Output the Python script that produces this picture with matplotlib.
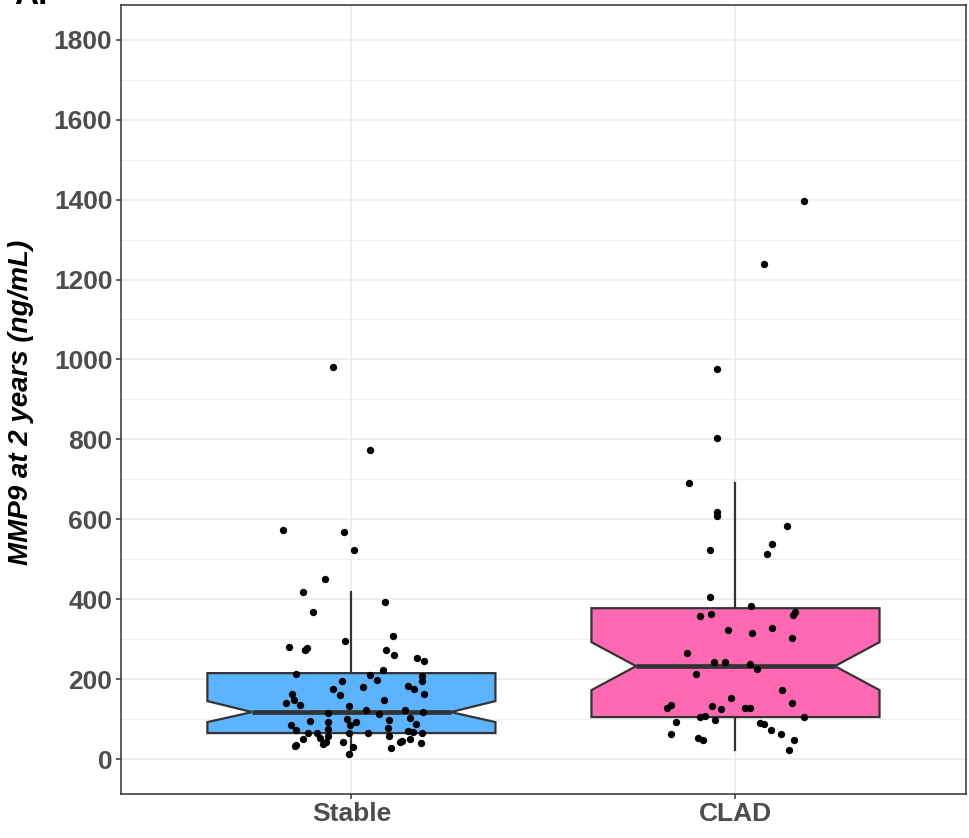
import matplotlib.pyplot as plt
import numpy as np

plt.rcParams['font.family'] = ['Liberation Sans', 'DejaVu Sans']

# groups on the x axis
groups = ["Stable", "CLAD"]
box_colors = ["#5CB3FF", "#FF69B4"]

# box statistics (ng/mL)
q1 = [65, 105]
median = [117.5, 232.5]
q3 = [215, 377.5]
notch_lo = [92.5, 172.5]
notch_hi = [145, 292.5]
whisk_lo = [12, 23]
whisk_hi = [417.5, 690]

# individual measurements with their horizontal jitter
stable_vals = [981, 773, 574, 568, 524, 450, 418, 369, 392, 308, 295, 281, 274, 277,
               272, 261, 253, 245, 224, 214, 211, 197, 208, 196, 195, 176, 181, 182,
               176, 164, 161, 162, 148, 148, 139, 134, 132, 122, 122, 117, 114, 112,
               103, 101, 92, 94, 92, 97, 84, 86, 88, 78, 75, 72, 65, 65, 65, 65, 70,
               67, 66, 58, 53, 58, 51, 43, 38, 43, 35, 32, 45, 43, 49, 39, 31, 28, 12]
stable_jit = [-0.048, 0.049, -0.178, -0.020, 0.006, -0.069, -0.127, -0.099, 0.087,
              0.107, -0.016, -0.163, -0.121, -0.115, 0.091, 0.111, 0.172, 0.188,
              0.082, -0.143, 0.049, 0.066, 0.183, 0.183, -0.025, -0.049, 0.030,
              0.147, 0.163, -0.155, -0.030, 0.188, -0.150, 0.085, -0.170, -0.135,
              -0.006, 0.039, 0.139, 0.187, -0.062, 0.073, 0.153, -0.011, -0.062,
              -0.108, 0.011, 0.098, -0.003, -0.156, 0.169, 0.094, -0.062, -0.143,
              -0.112, -0.089, -0.006, 0.043, 0.147, 0.160, 0.184, 0.098, -0.082,
              -0.062, -0.126, -0.067, -0.075, -0.022, -0.143, -0.146, 0.133, 0.127,
              0.152, 0.180, 0.004, 0.104, -0.005]
clad_vals = [1396, 1240, 975, 804, 690, 618, 608, 583, 537, 514, 522, 406, 382, 368,
             360, 362, 357, 324, 316, 328, 304, 266, 244, 242, 238, 226, 212, 172,
             154, 140, 136, 128, 132, 125, 128, 128, 106, 108, 106, 97, 92, 90, 87,
             72, 62, 62, 52, 48, 48, 23]
clad_jit = [0.178, 0.074, -0.049, -0.048, -0.120, -0.047, -0.049, 0.135, 0.095, 0.081,
            -0.066, -0.066, 0.040, 0.154, 0.149, -0.065, -0.093, -0.020, 0.042, 0.096,
            0.147, -0.127, -0.056, -0.028, 0.037, 0.055, -0.102, 0.120, -0.012, 0.147,
            -0.169, -0.179, -0.060, -0.037, 0.024, 0.038, -0.092, -0.080, 0.178,
            -0.054, -0.154, 0.065, 0.075, 0.092, 0.118, -0.169, -0.098, -0.084, 0.152,
            0.139]

fig = plt.figure(figsize=(9.7, 8.38), dpi=100)
ax = fig.add_axes([0.1247, 0.0525, 0.8711, 0.9415])

box_w = 0.75
notch_w = 0.69  # fraction of box width kept at the median
edge = "#333333"

for i, g in enumerate(groups):
    pos = i + 1
    bl, br = pos - box_w / 2, pos + box_w / 2
    nl, nr = pos - box_w * notch_w / 2, pos + box_w * notch_w / 2
    # whiskers
    ax.plot([pos, pos], [whisk_lo[i], q1[i]], color=edge, lw=1.6, zorder=2)
    ax.plot([pos, pos], [q3[i], whisk_hi[i]], color=edge, lw=1.6, zorder=2)
    # notched box
    xs = [bl, br, br, nr, br, br, bl, bl, nl, bl, bl]
    ys = [q1[i], q1[i], notch_lo[i], median[i], notch_hi[i], q3[i], q3[i],
          notch_hi[i], median[i], notch_lo[i], q1[i]]
    ax.fill(xs, ys, facecolor=box_colors[i], edgecolor=edge, lw=1.6, zorder=2)
    ax.plot([nl, nr], [median[i], median[i]], color=edge, lw=3.4,
            solid_capstyle='butt', zorder=3)

# jittered points
ax.scatter(1 + np.array(stable_jit), stable_vals, s=28, color='black', lw=0, zorder=4)
ax.scatter(2 + np.array(clad_jit), clad_vals, s=28, color='black', lw=0, zorder=4)

ax.set_xlim(0.4, 2.6)
ax.set_ylim(-87.5, 1887)
ax.set_xticks([1, 2])
ax.set_xticklabels(groups)
ax.set_yticks(np.arange(0, 1801, 200))
ax.set_yticks(np.arange(100, 1800, 200), minor=True)

ax.grid(True, which='major', color='#EBEBEB', lw=1.1, zorder=0)
ax.grid(True, which='minor', axis='y', color='#EBEBEB', lw=0.55, zorder=0)
ax.set_axisbelow(True)

for s in ax.spines.values():
    s.set_color('#333333')
    s.set_linewidth(1.1)

ax.tick_params(which='major', length=3.6, width=1.1, color='#333333',
               labelsize=19, labelcolor='#4D4D4D', pad=2.5)
ax.tick_params(which='minor', length=0)
for lab in ax.get_xticklabels() + ax.get_yticklabels():
    lab.set_fontweight('bold')

ax.set_ylabel("MMP9 at 2 years (ng/mL)", fontsize=20, fontweight='bold',
              fontstyle='italic', color='black')
ax.yaxis.set_label_coords(-0.1035, 0.497)

fig.text(0.015, 0.995, "A.", fontsize=24, fontweight='bold', va='baseline')

fig.savefig("out.png", dpi=100)
